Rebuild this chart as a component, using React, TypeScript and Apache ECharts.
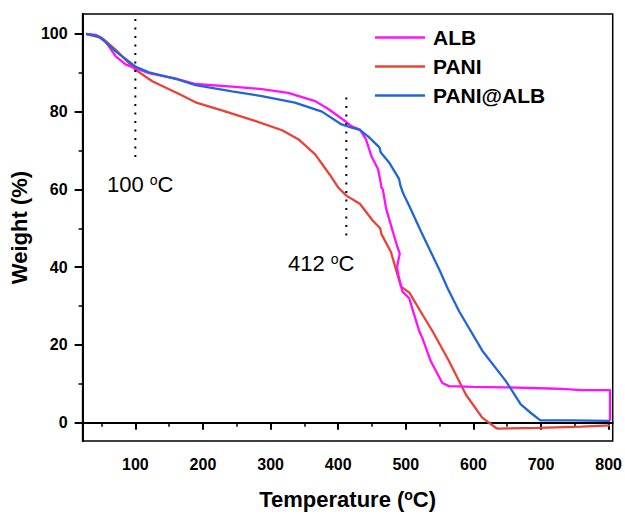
import React, { useEffect, useRef } from "react";
import * as echarts from "echarts";

// Temperature (°C), Weight (%)
const albData: [number, number][] = [
  [27, 100], [42, 99.7], [56, 98], [71, 94.2], [86, 92.1], [100, 91.2], [120, 89.9],
  [160, 88.5], [189, 87.1], [243, 86.4], [287, 85.8], [326, 84.8], [366, 82.7],
  [386, 80.6], [410, 77.6], [420, 76.2], [432, 75.4], [441, 72.9], [449, 68.6],
  [459, 65.2], [462, 62.5], [464, 60.5], [466, 60], [471, 55], [481, 49], [488, 45],
  [491, 43.5], [487, 40], [489, 38], [495, 33.7], [505, 32], [512, 28], [520, 23.5],
  [524, 22], [537, 15.8], [554, 10.2], [564, 9.4], [600, 9.2], [648, 9.1], [712, 8.8],
  [730, 8.7], [761, 8.4], [802, 8.4], [802, 0.5],
];

const paniData: [number, number][] = [
  [27, 100], [51, 98.9], [71, 95.9], [100, 90.8], [125, 87.8], [164, 84.6], [189, 82.4],
  [228, 80.3], [277, 77.6], [317, 75.2], [341, 72.9], [366, 69], [387, 63.9], [400, 60.5],
  [412, 58.4], [432, 56.3], [451, 52], [462, 50], [464, 48.5], [478, 43.9], [488, 37.9],
  [493, 35], [500, 34.1], [505, 33.5], [525, 27.7], [540, 23.4], [564, 15.8], [589, 7.2],
  [613, 1.3], [633, -1.3], [636, -1.5], [697, -1.3], [760, -1.0], [802, -0.7],
];

const paniAlbData: [number, number][] = [
  [27, 100], [47, 99.3], [71, 95.5], [100, 91.6], [120, 90.1], [164, 88.2], [189, 86.8],
  [243, 85.2], [287, 84], [336, 82.3], [376, 80], [405, 76.7], [420, 75.9], [432, 75.3],
  [445, 73.5], [461, 70.8], [463, 69.5], [475, 67], [490, 62.7], [492, 61], [496, 59],
  [505, 55.8], [523, 49], [537, 43.9], [550, 39.2], [562, 34.5], [579, 28.6], [614, 18.3],
  [648, 10.7], [670, 4.7], [685, 2.5], [699, 0.6], [745, 0.6], [800, 0.5], [802, 0.5],
];

const marker100: [number, number][] = [[100, 103.8], [100, 67.3]];
const marker412: [number, number][] = [[412, 83.6], [412, 47.8]];

const xMajor = [100, 200, 300, 400, 500, 600, 700, 800];
const xMinor = [50, 150, 250, 350, 450, 550, 650, 750];
const yMajor = [0, 20, 40, 60, 80, 100];
const yMinor = [10, 30, 50, 70, 90];

const FONT = "'Liberation Sans', Arial, sans-serif";

export default function App() {
  const ref = useRef<HTMLDivElement>(null);
  useEffect(() => {
    if (!ref.current) return;
    const chart = echarts.init(ref.current, undefined, { renderer: "svg" });
    const xMin = 22, xMax = 806, yMin = -4.7, yMax = 105.1;
    const supRich = {
      a: { fontFamily: FONT, fontSize: 22, fontWeight: "bold", color: "#000" },
      s: { fontFamily: FONT, fontSize: 14, fontWeight: "bold", color: "#000", verticalAlign: "top", lineHeight: 10 },
    };
    const annRich = {
      a: { fontFamily: FONT, fontSize: 22, color: "#111" },
      s: { fontFamily: FONT, fontSize: 14, color: "#111", verticalAlign: "top", lineHeight: 10 },
    };
    chart.setOption({
      animation: false,
      backgroundColor: "#fff",
      grid: {
        left: 82, right: 9.5, top: 14, bottom: 72,
        show: true, borderColor: "#000", borderWidth: 1.5, backgroundColor: "transparent",
      },
      legend: {
        data: ["ALB", "PANI", "PANI@ALB"],
        orient: "vertical",
        left: 375,
        top: 27,
        padding: 0,
        icon: "rect",
        itemWidth: 50,
        itemHeight: 2.5,
        itemGap: 8,
        textStyle: { fontFamily: FONT, fontSize: 21, fontWeight: "bold", color: "#000", padding: [0, 0, 0, 3] },
      },
      xAxis: [
        {
          type: "value", min: xMin, max: xMax, position: "bottom",
          name: "{a|Temperature (}{s|o}{a|C)}",
          nameLocation: "middle", nameGap: 47,
          nameTextStyle: { rich: supRich },
          axisLine: { show: true, lineStyle: { color: "#000", width: 2 } },
          axisTick: { show: true, customValues: xMajor, length: 7, lineStyle: { color: "#000", width: 2 } },
          axisLabel: {
            customValues: xMajor, margin: 15, color: "#000",
            fontFamily: FONT, fontSize: 16, fontWeight: "bold",
          },
          splitLine: { show: false },
        },
        {
          type: "value", min: xMin, max: xMax, position: "bottom",
          axisLine: { show: false },
          axisTick: { show: true, customValues: xMinor, length: 4, lineStyle: { color: "#000", width: 1.5 } },
          axisLabel: { show: false },
          splitLine: { show: false },
        },
      ],
      yAxis: [
        {
          type: "value", min: yMin, max: yMax, position: "left",
          name: "Weight (%)",
          nameLocation: "middle", nameGap: 49, nameRotate: 90,
          nameTextStyle: { fontFamily: FONT, fontSize: 22, fontWeight: "bold", color: "#000" },
          axisLine: { show: true, lineStyle: { color: "#000", width: 2 } },
          axisTick: { show: true, customValues: yMajor, length: 8, lineStyle: { color: "#000", width: 2 } },
          axisLabel: {
            customValues: yMajor, margin: 15, color: "#000",
            fontFamily: FONT, fontSize: 16, fontWeight: "bold",
          },
          splitLine: { show: false },
        },
        {
          type: "value", min: yMin, max: yMax, position: "left",
          axisLine: { show: false },
          axisTick: { show: true, customValues: yMinor, length: 4, lineStyle: { color: "#000", width: 1.5 } },
          axisLabel: { show: false },
          splitLine: { show: false },
        },
      ],
      series: [
        {
          name: "ALB", type: "line", data: albData, showSymbol: false, symbol: "none",
          lineStyle: { color: "#ff10ff", width: 2.3 }, itemStyle: { color: "#ff10ff" }, z: 3,
        },
        {
          name: "PANI", type: "line", data: paniData, showSymbol: false, symbol: "none",
          lineStyle: { color: "#ec4136", width: 2.3 }, itemStyle: { color: "#ec4136" }, z: 2,
        },
        {
          name: "PANI@ALB", type: "line", data: paniAlbData, showSymbol: false, symbol: "none",
          lineStyle: { color: "#1f66d6", width: 2.3 }, itemStyle: { color: "#1f66d6" }, z: 4,
        },
        {
          name: "m100", type: "line", data: marker100, showSymbol: false, symbol: "none", silent: true,
          lineStyle: { color: "#000", width: 2, type: [2, 6.5] },
        },
        {
          name: "m412", type: "line", data: marker412, showSymbol: false, symbol: "none", silent: true,
          lineStyle: { color: "#000", width: 2, type: [2, 6.5] },
        },
      ],
      graphic: [
        {
          type: "text", x: 107, y: 184,
          style: { text: "{a|100 }{s|o}{a|C}", rich: annRich, verticalAlign: "middle", align: "left" },
        },
        {
          type: "text", x: 288, y: 263,
          style: { text: "{a|412 }{s|o}{a|C}", rich: annRich, verticalAlign: "middle", align: "left" },
        },
      ],
    });
    return () => chart.dispose();
  }, []);
  return <div ref={ref} style={{ width: 625, height: 515, position: "absolute", left: 0, top: 0 }} />;
}
